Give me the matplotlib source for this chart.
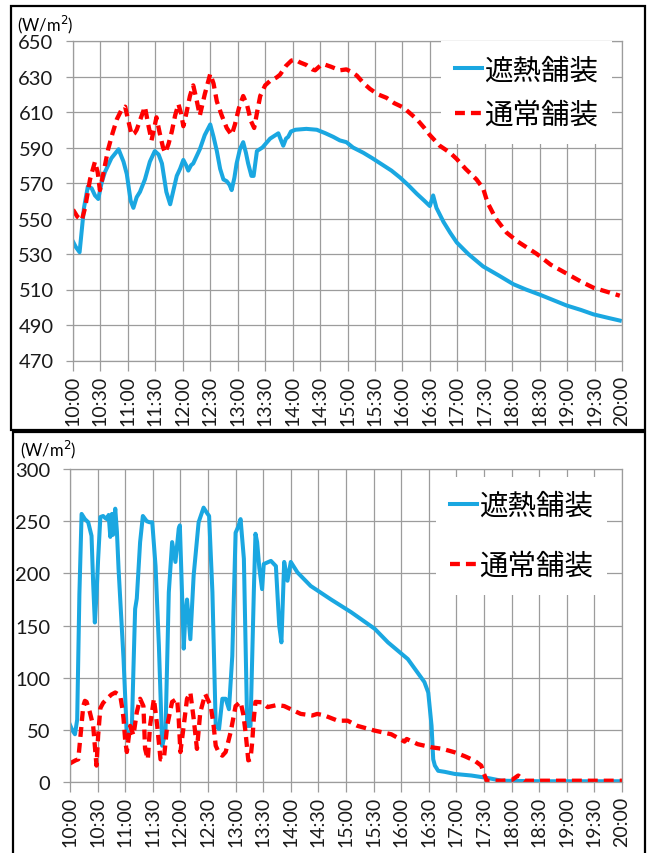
import matplotlib.pyplot as plt
from matplotlib.lines import Line2D
from matplotlib.patches import Rectangle

plt.rcParams['font.family'] = ['Lato', 'Noto Sans CJK JP', 'DejaVu Sans']

BLUE = '#1aa7e1'
RED = '#ff0000'
GRID = '#9c9c9c'

SERIES_NAMES = ['遮熱舗装', '通常舗装']
UNIT_LABEL = '(W/m$^2$)'

TICK_HOURS = [10.0, 10.5, 11.0, 11.5, 12.0, 12.5, 13.0, 13.5, 14.0, 14.5, 15.0,
              15.5, 16.0, 16.5, 17.0, 17.5, 18.0, 18.5, 19.0, 19.5, 20.0]
TICK_LABELS = ['10:00', '10:30', '11:00', '11:30', '12:00', '12:30', '13:00',
               '13:30', '14:00', '14:30', '15:00', '15:30', '16:00', '16:30',
               '17:00', '17:30', '18:00', '18:30', '19:00', '19:30', '20:00']

TOP_YTICKS = [470, 490, 510, 530, 550, 570, 590, 610, 630, 650]
BOTTOM_YTICKS = [0, 50, 100, 150, 200, 250, 300]

# top panel, 遮熱舗装 (hours, W/m2)
top_cool_t = [10.00, 10.05, 10.12, 10.20, 10.27, 10.34, 10.40, 10.46, 10.52, 10.58,
              10.70, 10.83, 10.92, 10.98, 11.05, 11.10, 11.16, 11.22, 11.31, 11.40,
              11.49, 11.56, 11.62, 11.70, 11.77, 11.83, 11.89, 11.95, 12.01, 12.06,
              12.10, 12.15, 12.19, 12.25, 12.31, 12.40, 12.50, 12.56, 12.62, 12.68,
              12.74, 12.80, 12.85, 12.89, 12.94, 12.98, 13.04, 13.10, 13.15, 13.19,
              13.25, 13.29, 13.35, 13.45, 13.59, 13.74, 13.79, 13.83, 13.88, 13.92,
              13.97, 14.05, 14.25, 14.44, 14.60, 14.74, 14.86, 14.98, 15.10, 15.29,
              15.45, 15.65, 15.80, 15.96, 16.10, 16.26, 16.40, 16.50, 16.56, 16.62,
              16.75, 16.87, 16.99, 17.20, 17.47, 17.75, 18.02, 18.25, 18.51, 18.75,
              18.99, 19.25, 19.48, 19.75, 19.96]
top_cool_v = [537, 534, 531, 556, 568, 567, 563, 561, 570, 576,
              584, 589, 582, 575, 560, 556, 562, 565, 572, 582,
              588, 586, 581, 565, 558, 566, 574, 578, 583, 580,
              577, 580, 581, 585, 589, 597, 603, 596, 588, 578,
              572, 571, 569, 566, 573, 581, 589, 593, 587, 581,
              574, 574, 588, 590, 595, 598, 594, 591, 595, 596,
              599, 600, 600.5, 600, 598, 596, 594, 593, 590, 587,
              584, 580, 577, 573, 569, 564, 560, 557, 563, 556,
              548, 542, 536.5, 530, 523, 518, 513, 510, 507, 504,
              501, 498.5, 496, 494, 492.5]

# top panel, 通常舗装
top_norm_t = [10.00, 10.08, 10.16, 10.22, 10.31, 10.40, 10.45, 10.49, 10.55, 10.64,
              10.72, 10.80, 10.88, 10.95, 11.00, 11.07, 11.12, 11.16, 11.24, 11.31,
              11.37, 11.43, 11.48, 11.52, 11.58, 11.64, 11.68, 11.74, 11.80, 11.86,
              11.92, 11.97, 12.01, 12.07, 12.13, 12.19, 12.25, 12.31, 12.40, 12.50,
              12.56, 12.62, 12.71, 12.80, 12.89, 12.95, 13.02, 13.10, 13.17, 13.24,
              13.30, 13.36, 13.41, 13.50, 13.59, 13.71, 13.77, 13.88, 13.98, 14.05,
              14.13, 14.25, 14.36, 14.41, 14.50, 14.56, 14.70, 14.86, 14.98, 15.08,
              15.17, 15.30, 15.41, 15.55, 15.71, 15.85, 16.02, 16.15, 16.26, 16.40,
              16.50, 16.68, 16.87, 16.99, 17.15, 17.35, 17.47, 17.55, 17.70, 17.90,
              18.10, 18.45, 18.70, 18.99, 19.25, 19.48, 19.75, 19.96]
top_norm_v = [555, 551, 549, 556, 572, 582, 576, 566, 575, 589,
              598, 606, 611, 613, 606, 597, 598, 600, 607, 613,
              603, 594, 601, 607, 598, 590, 587, 592, 599, 608,
              614.5, 609, 602, 610, 619, 625, 617, 608, 620, 631.5,
              626, 616, 608, 601, 597, 603, 612, 619, 614, 605,
              601, 611, 619, 625, 627.5, 629.5, 631, 636, 639, 639.5,
              638, 636.5, 634, 633.5, 636, 637, 635.5, 633.5, 634, 632.5,
              630.5, 626, 623, 620, 618, 615, 612.5, 609, 606, 601,
              597, 591, 587, 583.5, 578, 572, 567, 559, 550, 542,
              537, 530, 524, 519, 514.5, 511, 508.5, 506.5]

# bottom panel, 遮熱舗装
bot_cool_t = [10.00, 10.04, 10.09, 10.13, 10.17, 10.21, 10.27, 10.33, 10.39, 10.42,
              10.45, 10.48, 10.51, 10.55, 10.60, 10.64, 10.67, 10.70, 10.73, 10.76,
              10.78, 10.82, 10.85, 10.88, 10.97, 11.03, 11.08, 11.12, 11.15, 11.18,
              11.21, 11.27, 11.32, 11.39, 11.44, 11.49, 11.55, 11.61, 11.67, 11.73,
              11.79, 11.85, 11.91, 11.97, 11.99, 12.03, 12.06, 12.09, 12.12, 12.18,
              12.24, 12.33, 12.42, 12.48, 12.52, 12.58, 12.64, 12.70, 12.76, 12.82,
              12.88, 12.94, 13.00, 13.05, 13.09, 13.15, 13.21, 13.27, 13.33, 13.36,
              13.39, 13.43, 13.48, 13.51, 13.64, 13.73, 13.79, 13.83, 13.88, 13.94,
              14.00, 14.12, 14.36, 14.73, 15.09, 15.52, 15.76, 16.12, 16.42, 16.49,
              16.55, 16.58, 16.61, 16.67, 16.79, 16.97, 17.27, 17.58, 17.82, 18.50,
              19.00, 20.00]
bot_cool_v = [55, 50, 46, 60, 180, 257, 252, 249, 236, 190,
              153, 180, 214, 254, 255, 253, 252, 256, 235, 257,
              237, 262, 240, 204, 118, 45, 47, 51, 110, 166,
              176, 230, 255, 250, 249, 249, 207, 131, 35, 48,
              182, 230, 211, 243, 246, 180, 128, 160, 175, 137,
              198, 249, 263, 258, 255, 182, 54, 51, 80, 80,
              70, 121, 239, 245, 252, 214, 54, 54, 182, 238,
              230, 205, 185, 209, 212, 207, 150, 134, 211, 193,
              211, 201, 188, 175, 163, 147, 134, 118, 96, 86,
              54, 22, 16, 11, 10, 8, 6.5, 4, 1.5, 1,
              1, 1]

# bottom panel, 通常舗装
bot_norm_t = [10.00, 10.03, 10.10, 10.15, 10.20, 10.24, 10.27, 10.30, 10.36, 10.42,
              10.45, 10.48, 10.51, 10.55, 10.60, 10.67, 10.75, 10.82, 10.91, 10.95,
              10.97, 11.00, 11.03, 11.09, 11.15, 11.21, 11.27, 11.33, 11.36, 11.41,
              11.45, 11.52, 11.58, 11.64, 11.70, 11.76, 11.85, 11.94, 11.97, 12.00,
              12.06, 12.12, 12.18, 12.24, 12.30, 12.36, 12.45, 12.55, 12.60, 12.64,
              12.70, 12.76, 12.82, 12.91, 13.00, 13.09, 13.14, 13.18, 13.23, 13.27,
              13.30, 13.33, 13.36, 13.48, 13.58, 13.75, 13.88, 14.00, 14.18, 14.39,
              14.48, 14.61, 14.85, 15.03, 15.21, 15.52, 15.82, 16.06, 16.10, 16.30,
              16.55, 16.75, 16.97, 17.15, 17.33, 17.45, 17.50, 17.55, 17.80, 18.00,
              18.12, 18.24, 18.50, 19.00, 20.00]
bot_norm_v = [18, 19, 21, 22, 50, 73, 78, 77, 67, 54,
              35, 16, 45, 71, 76, 80, 84, 86, 83, 70,
              61, 40, 29, 54, 45, 67, 80, 73, 32, 22,
              54, 80, 54, 22, 22, 54, 77, 80, 60, 29,
              54, 80, 86, 61, 32, 67, 84.5, 73, 55, 35,
              28, 25.5, 29, 48, 73, 77, 65, 48, 21, 22,
              38, 61, 77, 76.6, 72, 74, 73, 70, 65.5, 64,
              65.5, 64, 59, 59, 54, 49.5, 46, 39, 41.5, 36.5,
              33.5, 32, 28.7, 25, 20.7, 16, 8, 1.5, 1.5, 2,
              6.5, 1.5, 1.5, 1.5, 1.5]

BLUE_LW = 2.9
RED_LW = 3.1
RED_DASH = (2.3, 1.4)


def style_axes(ax, yticks):
    ax.set_xlim(TICK_HOURS[0], TICK_HOURS[-1])
    ax.set_ylim(yticks[0], yticks[-1])
    ax.set_xticks(TICK_HOURS)
    ax.set_xticklabels(TICK_LABELS, rotation=90)
    ax.set_yticks(yticks)
    ax.grid(True, color=GRID, lw=0.9)
    ax.set_axisbelow(True)
    for sp in ax.spines.values():
        sp.set_color(GRID)
        sp.set_linewidth(0.9)
    ax.tick_params(axis='x', length=7, width=0.9, color=GRID, pad=3,
                   labelsize=14, labelcolor='#1a1a1a')
    ax.tick_params(axis='y', length=5, width=0.9, color=GRID, pad=9,
                   labelsize=14.5, labelcolor='#1a1a1a')


def draw_lines(ax, cool_t, cool_v, norm_t, norm_v):
    ax.plot(cool_t, cool_v, color=BLUE, lw=BLUE_LW, solid_joinstyle='round')
    ax.plot(norm_t, norm_v, color=RED, lw=RED_LW, dashes=RED_DASH)


def add_legend(ax, anchor, spacing):
    handles = [Line2D([], [], color=BLUE, lw=BLUE_LW),
               Line2D([], [], color=RED, lw=RED_LW, dashes=RED_DASH)]
    ax.legend(handles, SERIES_NAMES, loc='upper right', bbox_to_anchor=anchor,
              prop={'family': 'Noto Sans CJK JP', 'size': 20.5},
              frameon=True, facecolor='white', edgecolor='none', framealpha=1,
              fancybox=False, handlelength=0.95, handletextpad=0.05,
              labelspacing=spacing, borderpad=0.5, borderaxespad=0)


fig = plt.figure(figsize=(6.49, 8.54), dpi=100)

ax1 = fig.add_axes([73 / 649, 1 - 361.5 / 854, 549 / 649, 319.5 / 854])
draw_lines(ax1, top_cool_t, top_cool_v, top_norm_t, top_norm_v)
style_axes(ax1, TOP_YTICKS)
add_legend(ax1, (0.982, 1.0), 0.5)

ax2 = fig.add_axes([70 / 649, 1 - 783.3 / 854, 552 / 649, 313.3 / 854])
draw_lines(ax2, bot_cool_t, bot_cool_v, bot_norm_t, bot_norm_v)
style_axes(ax2, BOTTOM_YTICKS)
add_legend(ax2, (0.973, 0.975), 1.05)

fig.text(17 / 649, 1 - 25 / 854, UNIT_LABEL, fontsize=12, va='center', ha='left')
fig.text(20 / 649, 1 - 450 / 854, UNIT_LABEL, fontsize=12, va='center', ha='left')

# panel frames
fig.patches.append(Rectangle((11 / 649, 1 - 431 / 854), 634 / 649, 424 / 854,
                             transform=fig.transFigure, fill=False, lw=1.6, ec='black'))
fig.patches.append(Rectangle((13 / 649, -0.01), 632 / 649, 1 - 433 / 854 + 0.01,
                             transform=fig.transFigure, fill=False, lw=1.6, ec='black'))

fig.savefig('out.png', dpi=100)
